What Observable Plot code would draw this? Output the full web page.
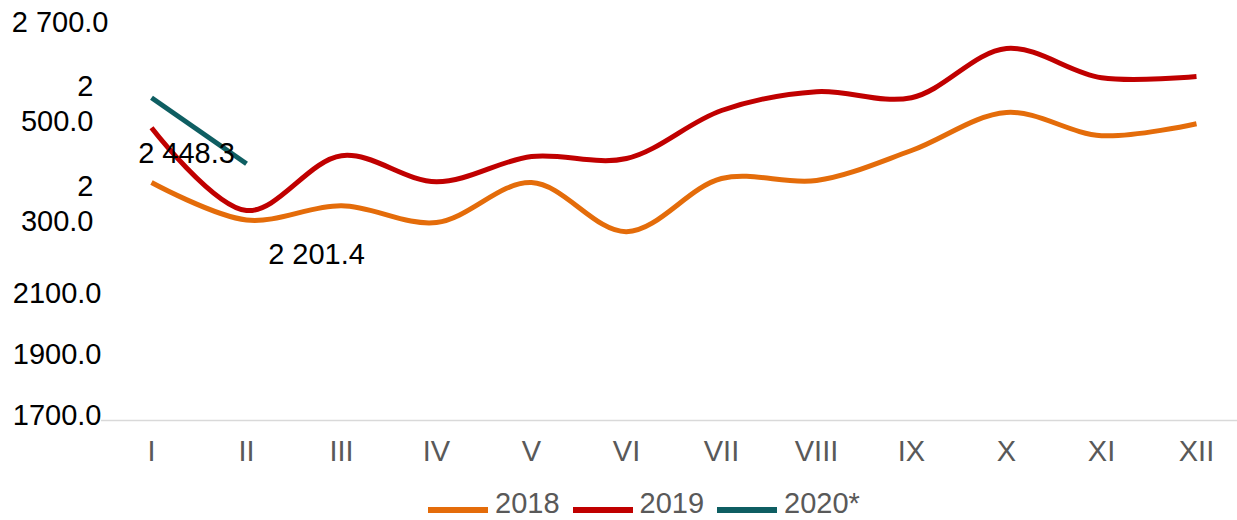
<!DOCTYPE html>
<html>
<head>
<meta charset="utf-8">
<script src="https://cdn.jsdelivr.net/npm/d3@7"></script>
<script src="https://cdn.jsdelivr.net/npm/@observablehq/plot@0.6"></script>
<style>
  html, body { margin: 0; padding: 0; background: #fff; }
  body { width: 1237px; height: 520px; overflow: hidden; font-family: "Liberation Sans", Arial, sans-serif; }
  #chart svg { display: block; }
  #legend { display: flex; align-items: center; justify-content: center; margin-top: 19px; padding-left: 64px; font-size: 29px; line-height: 1; color: #595959; }
  .item { display: flex; align-items: center; margin-right: 13px; }
  .sw { width: 60px; height: 6px; margin-right: 7px; margin-top: 12px; }
</style>
</head>
<body>
<div id="chart"></div>
<div id="legend"></div>
<script>
const months = ["I","II","III","IV","V","VI","VII","VIII","IX","X","XI","XII"];
const values2018 = [2295, 2201.4, 2237, 2195, 2295, 2172, 2305, 2300, 2375, 2470, 2412, 2442];
const values2019 = [2432, 2225, 2362, 2297, 2360, 2355, 2475, 2522, 2507, 2630, 2557, 2560];
const values2020 = [2507, 2342];
const seriesNames = ["2018", "2019", "2020*"];
const seriesColors = ["#E46C0A", "#C00000", "#0E5E62"];
const yTicks = [1700, 1900, 2100, 2300, 2500, 2700];
const yTickLabels = ["1700.0", "1900.0", "2100.0", "2\n300.0", "2\n500.0", "2 700.0"];
const dataLabels = [
  {series: "2020*", month: "II", text: "2 448.3"},
  {series: "2018", month: "II", text: "2 201.4"}
];

// styling offsets for tick labels (Excel-like placement)
const yTickDy = [-7, 12, 31, 22, 2, 0];
const yTickDx = [0, 0, 0, -8, -8, 7];

const allSeries = [values2018, values2019, values2020];
const rows = [];
allSeries.forEach((vals, si) => vals.forEach((v, i) => rows.push({series: seriesNames[si], month: months[i], value: v})));

const lookup = (s, m) => rows.find(r => r.series === s && r.month === m).value;
const labelRows = dataLabels.map(d => ({...d, value: lookup(d.series, d.month)}));

const chart = Plot.plot({
  width: 1237,
  height: 470,
  marginLeft: 101,
  marginRight: -8,
  marginTop: 20,
  marginBottom: 50,
  style: {fontFamily: "'Liberation Sans', Arial, sans-serif", background: "#fff"},
  x: {type: "point", domain: months, padding: 0.5, label: null},
  y: {domain: [1700, 2700], label: null},
  color: {domain: seriesNames, range: seriesColors},
  marks: [
    Plot.ruleY([1700], {stroke: "#d9d9d9", strokeWidth: 1.5}),
    Plot.axisX({tickSize: 0, tickPadding: 20, fontSize: 29, fill: "#595959", label: null}),
    ...yTicks.map((t, i) => Plot.axisY([t], {
      tickSize: 0, tickPadding: 0, fontSize: 29, fill: "#000", lineHeight: 1.2,
      dx: yTickDx[i], dy: yTickDy[i], label: null,
      tickFormat: () => yTickLabels[i]
    })),
    Plot.lineY(rows.filter(r => r.series !== "2020*"), {
      x: "month", y: "value", z: "series", stroke: "series",
      strokeWidth: 5, curve: "catmull-rom", strokeLinecap: "butt"
    }),
    Plot.lineY(rows.filter(r => r.series === "2020*"), {
      x: "month", y: "value", stroke: "series",
      strokeWidth: 5, curve: "linear", strokeLinecap: "butt"
    }),
    Plot.text(labelRows.filter(d => d.series === "2020*"), {
      x: "month", y: "value", text: "text", fontSize: 29, fill: "#000",
      dx: -60, dy: -10
    }),
    Plot.text(labelRows.filter(d => d.series === "2018"), {
      x: "month", y: "value", text: "text", fontSize: 29, fill: "#000",
      dx: 70, dy: 35
    })
  ]
});
document.getElementById("chart").appendChild(chart);

const legend = document.getElementById("legend");
seriesNames.forEach((n, i) => {
  const item = document.createElement("div");
  item.className = "item";
  const sw = document.createElement("span");
  sw.className = "sw";
  sw.style.background = seriesColors[i];
  const t = document.createElement("span");
  t.textContent = n;
  item.appendChild(sw);
  item.appendChild(t);
  legend.appendChild(item);
});
</script>
</body>
</html>
